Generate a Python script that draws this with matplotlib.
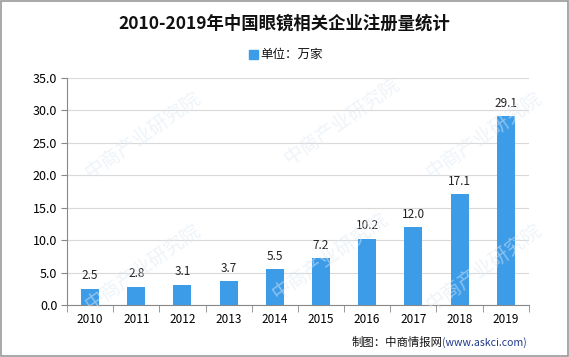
import matplotlib
matplotlib.use("Agg")
import matplotlib.pyplot as plt
import numpy as np

plt.rcParams['font.family'] = ['Noto Sans CJK SC', 'DejaVu Sans']

years = ["2010", "2011", "2012", "2013", "2014", "2015", "2016", "2017", "2018", "2019"]
values = [2.5, 2.8, 3.1, 3.7, 5.5, 7.2, 10.2, 12.0, 17.1, 29.1]
yticks = [0, 5, 10, 15, 20, 25, 30, 35]

title = "2010-2019年中国眼镜相关企业注册量统计"
legend_label = "单位：万家"
source = "制图：中商情报网"
source_url = "(www.askci.com)"
bar_color = "#3d9ce8"

fig = plt.figure(figsize=(5.69, 3.57), dpi=100)
ax = fig.add_axes([0.1178, 0.1457, 0.8115, 0.6358])

# faint watermark
for (wx, wy) in [(0.25, 0.62), (0.60, 0.66), (0.85, 0.62), (0.25, 0.25), (0.58, 0.28), (0.85, 0.25)]:
    fig.text(wx, wy, "中商产业研究院", rotation=35, fontsize=14, color="#dde9f3",
             alpha=0.5, ha="center", va="center", zorder=0)

x = np.arange(len(years))
bars = ax.bar(x, values, width=0.39, color=bar_color, zorder=3)
for xi, v in zip(x, values):
    ax.text(xi, v + 1.0, f"{v:.1f}", ha="center", va="bottom", fontsize=8.5, color="#222222")

ax.set_xlim(-0.5, len(years) - 0.5)
ax.set_ylim(0, 35)
ax.set_yticks(yticks)
ax.set_yticklabels([f"{t:.1f}" for t in yticks], fontsize=9)
ax.set_xticks(x)
ax.set_xticklabels(years, fontsize=8.5)
ax.set_xticks(np.arange(-0.5, len(years), 1.0), minor=True)
ax.tick_params(axis='x', which='major', length=0, pad=6)
ax.tick_params(axis='x', which='minor', length=5, color="#888888")
ax.tick_params(axis='y', length=4, color="#888888", pad=3)
ax.grid(axis='y', color="#d9d9d9", linewidth=0.8, zorder=0)
ax.set_axisbelow(True)
for s in ["top", "right"]:
    ax.spines[s].set_visible(False)
ax.spines["left"].set_color("#888888")
ax.spines["bottom"].set_color("#888888")
ax.patch.set_alpha(0)

fig.text(0.5, 0.935, title, ha="center", va="center", fontsize=12.5, fontweight="bold", color="#111111")
fig.patches.append(plt.Rectangle((0.437, 0.834), 0.016, 0.026, transform=fig.transFigure, color=bar_color))
fig.text(0.457, 0.847, legend_label, ha="left", va="center", fontsize=9, color="#111111")

url_t = fig.text(0.926, 0.04, source_url, ha="right", va="center", fontsize=7.6, color="#1f3a8a")
fig.canvas.draw()
bb = url_t.get_window_extent()
x_left = bb.x0 / fig.bbox.width
fig.text(x_left, 0.04, source, ha="right", va="center", fontsize=8.2, color="#111111")

fig.patches.append(plt.Rectangle((0.001, 0.002), 0.997, 0.996, transform=fig.transFigure,
                                 fill=False, edgecolor="#999999", linewidth=1.2))

fig.savefig("out.png", dpi=100)
